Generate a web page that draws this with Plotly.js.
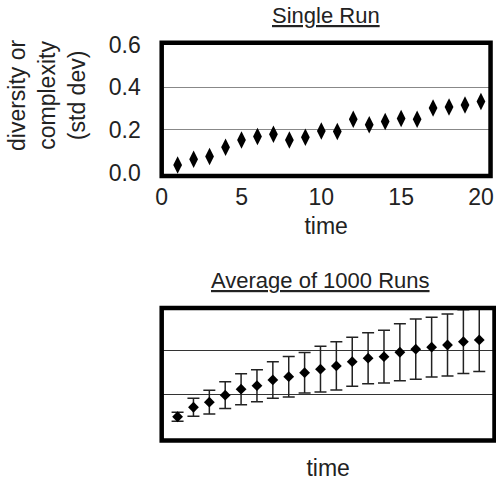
<!DOCTYPE html>
<html>
<head>
<meta charset="utf-8">
<script src="https://cdn.plot.ly/plotly-3.0.1.min.js"></script>
<style>html,body{margin:0;padding:0;background:#fff;}#chart{width:496px;height:482px;}</style>
</head>
<body>
<div id="chart"></div>
<script>
const time = [1,2,3,4,5,6,7,8,9,10,11,12,13,14,15,16,17,18,19,20];
const singleRun = [0.036,0.063,0.075,0.119,0.153,0.169,0.180,0.153,0.166,0.195,0.192,0.250,0.224,0.239,0.253,0.250,0.303,0.307,0.317,0.333];
const avgRuns = [0.101,0.144,0.167,0.199,0.226,0.242,0.268,0.283,0.301,0.317,0.332,0.351,0.367,0.374,0.394,0.408,0.417,0.427,0.442,0.450];
const avgErr = [0.020,0.041,0.054,0.061,0.070,0.073,0.083,0.092,0.092,0.104,0.110,0.111,0.116,0.120,0.129,0.137,0.136,0.141,0.145,0.143];
const xTicks = [0,5,10,15,20];
const yTicks = [0,0.2,0.4,0.6];
const titleTop = 'Single Run';
const titleBottom = 'Average of 1000 Runs';
const xLabel = 'time';
const yLabel = 'diversity or<br>complexity<br>(std dev)';

const FONT = 'Liberation Sans, Arial, sans-serif';
const FS = 23;
const TFS = 22;

const data = [
  {x: time, y: singleRun, xaxis: 'x', yaxis: 'y', type: 'scatter', mode: 'markers',
   marker: {symbol: 'diamond-tall', size: 12.5, color: '#000'}, hoverinfo: 'skip'},
  {x: time, y: avgRuns, xaxis: 'x2', yaxis: 'y2', type: 'scatter', mode: 'markers',
   marker: {symbol: 'diamond', size: 8.3, color: '#000'},
   error_y: {type: 'data', array: avgErr, visible: true, color: '#222', thickness: 1.5, width: 6},
   hoverinfo: 'skip'}
];

const frame = (xr, yr) => ({type: 'rect', xref: xr + ' domain', yref: yr + ' domain', x0: 0, x1: 1, y0: 0, y1: 1,
  line: {color: '#000', width: 4.5}, layer: 'above'});

const layout = {
  width: 496, height: 482,
  margin: {l: 0, r: 0, t: 0, b: 0},
  paper_bgcolor: '#fff', plot_bgcolor: '#fff',
  showlegend: false,
  font: {family: FONT, size: FS, color: '#222'},
  xaxis: {domain: [0.326, 0.989], range: [0, 20.6], tickvals: xTicks, ticks: '', showgrid: false, zeroline: false,
    showline: false, ticklabelstandoff: 5, tickfont: {size: FS, color: '#222'},
    title: {text: xLabel, font: {size: FS, color: '#222'}, standoff: 8}, anchor: 'y'},
  yaxis: {domain: [0.63485, 0.9112], range: [-0.016, 0.608], tickvals: yTicks, tickformat: '.1f', ticks: '',
    showgrid: true, gridcolor: '#888', gridwidth: 1, zeroline: true, zerolinecolor: '#fff',
    ticklabelstandoff: 20, tickfont: {size: FS, color: '#222'}, anchor: 'x'},
  xaxis2: {domain: [0.326, 0.997], range: [0, 20.96], showticklabels: false, ticks: '', showgrid: false, zeroline: false,
    title: {text: xLabel, font: {size: FS, color: '#222'}, standoff: 19}, anchor: 'y2'},
  yaxis2: {domain: [0.0861, 0.361], range: [-0.007, 0.595], tickvals: [0.2, 0.4], showticklabels: false, ticks: '',
    showgrid: true, gridcolor: '#333', gridwidth: 1, zeroline: false, anchor: 'x2'},
  shapes: [frame('x', 'y'), frame('x2', 'y2')],
  annotations: [
    {text: '<span style="text-decoration:underline">' + titleTop + '</span>', xref: 'paper', yref: 'paper',
     x: 326/496, y: 1 - 15/482, xanchor: 'center', yanchor: 'middle', showarrow: false, font: {size: TFS, color: '#222'}},
    {text: '<span style="text-decoration:underline">' + titleBottom + '</span>', xref: 'paper', yref: 'paper',
     x: 320/496, y: 1 - 280/482, xanchor: 'center', yanchor: 'middle', showarrow: false, font: {size: TFS, color: '#222'}},
    {text: yLabel, xref: 'paper', yref: 'paper', x: 47/496, y: 1 - 95/482, xanchor: 'center', yanchor: 'middle',
     textangle: -90, showarrow: false, font: {size: FS, color: '#222'}}
  ]
};

Plotly.newPlot('chart', data, layout, {staticPlot: true, displayModeBar: false});
</script>
</body>
</html>
